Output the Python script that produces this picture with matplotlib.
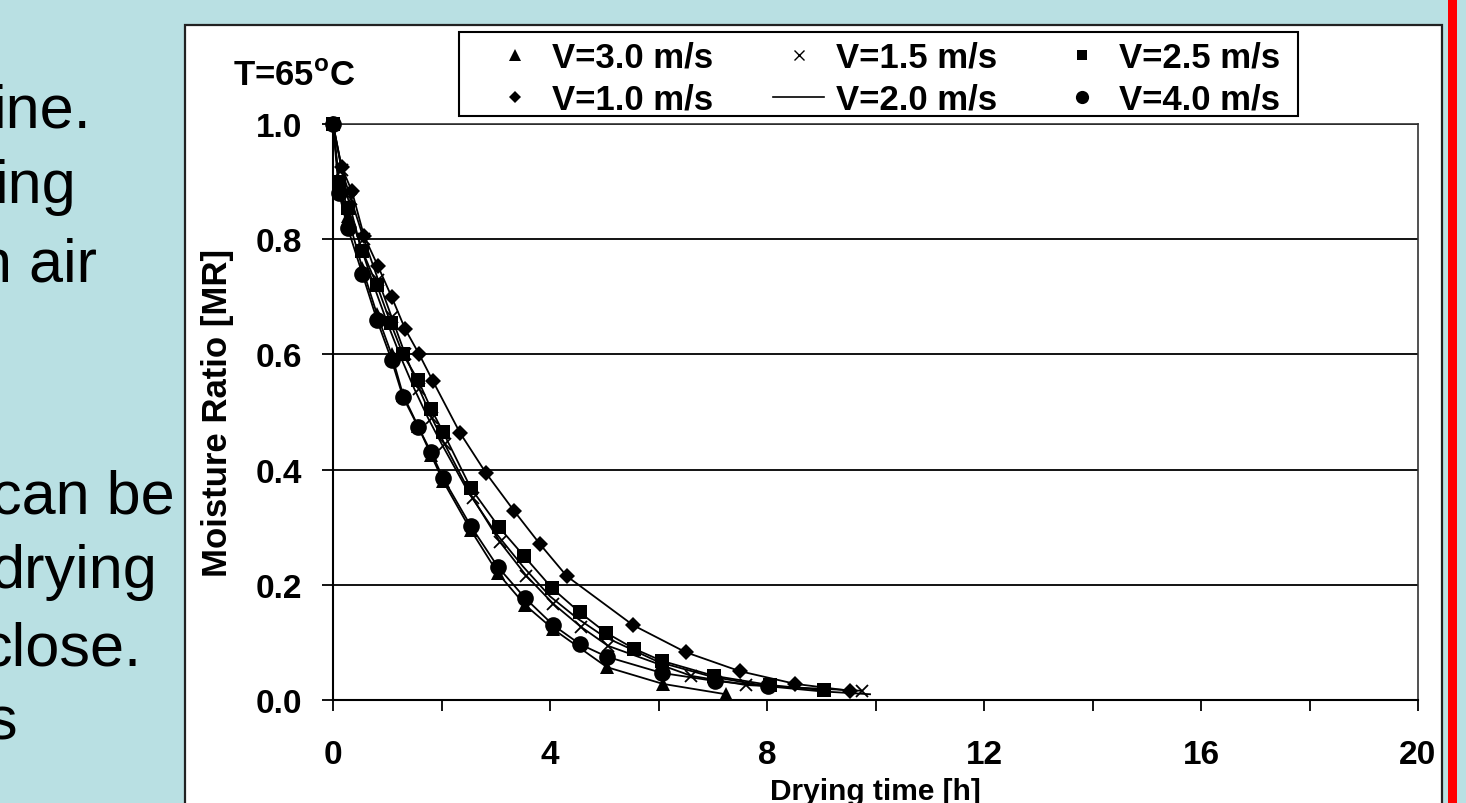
import matplotlib
matplotlib.use("Agg")
import matplotlib.pyplot as plt
from matplotlib.lines import Line2D
from matplotlib.patches import Rectangle
from matplotlib.font_manager import FontProperties

plt.rcParams['font.family'] = ['Liberation Sans', 'DejaVu Sans']
plt.rcParams['mathtext.fontset'] = 'custom'
plt.rcParams['mathtext.rm'] = 'Liberation Sans:bold'
plt.rcParams['mathtext.bf'] = 'Liberation Sans:bold'

# ---------------- data ----------------
t_v10 = [0, 0.16, 0.35, 0.57, 0.83, 1.08, 1.33, 1.59, 1.84, 2.34, 2.82, 3.34, 3.82, 4.31, 5.53, 6.5, 7.5, 8.52, 9.53]
mr_v10 = [1.0, 0.925, 0.883, 0.806, 0.753, 0.70, 0.644, 0.60, 0.554, 0.464, 0.394, 0.328, 0.27, 0.215, 0.13, 0.083, 0.05, 0.028, 0.016]

t_v15 = [0, 0.16, 0.33, 0.57, 0.83, 1.08, 1.33, 1.59, 1.82, 2.06, 2.58, 3.08, 3.56, 4.06, 4.57, 5.07, 6.6, 7.61, 9.75]
mr_v15 = [1.0, 0.92, 0.87, 0.80, 0.73, 0.665, 0.60, 0.54, 0.49, 0.444, 0.35, 0.274, 0.216, 0.167, 0.127, 0.094, 0.042, 0.026, 0.016]

t_v20 = [0, 0.25, 0.5, 0.75, 1.0, 1.25, 1.5, 1.75, 2.0, 2.5, 3.0, 3.5, 4.0, 4.5, 5.0, 6.0, 7.0, 8.0, 9.0, 9.9]
mr_v20 = [1.0, 0.88, 0.79, 0.72, 0.655, 0.595, 0.54, 0.49, 0.445, 0.36, 0.29, 0.232, 0.18, 0.142, 0.11, 0.066, 0.04, 0.024, 0.015, 0.01]

t_v25 = [0, 0.11, 0.27, 0.54, 0.81, 1.06, 1.29, 1.57, 1.81, 2.03, 2.54, 3.06, 3.52, 4.04, 4.55, 5.03, 5.55, 6.06, 7.02, 8.05, 9.05]
mr_v25 = [1.0, 0.90, 0.855, 0.78, 0.72, 0.655, 0.60, 0.555, 0.505, 0.465, 0.368, 0.30, 0.25, 0.194, 0.152, 0.117, 0.089, 0.068, 0.042, 0.026, 0.017]

t_v30 = [0, 0.11, 0.27, 0.54, 0.81, 1.08, 1.29, 1.57, 1.81, 2.03, 2.54, 3.04, 3.54, 4.06, 5.05, 6.08, 7.24]
mr_v30 = [1.0, 0.90, 0.84, 0.75, 0.67, 0.60, 0.53, 0.475, 0.425, 0.38, 0.295, 0.22, 0.165, 0.123, 0.057, 0.028, 0.010]

t_v40 = [0, 0.11, 0.27, 0.54, 0.81, 1.08, 1.29, 1.57, 1.81, 2.03, 2.54, 3.04, 3.54, 4.06, 4.55, 5.05, 6.06, 7.04, 8.02]
mr_v40 = [1.0, 0.88, 0.82, 0.74, 0.66, 0.59, 0.526, 0.474, 0.43, 0.385, 0.302, 0.231, 0.177, 0.13, 0.097, 0.075, 0.047, 0.033, 0.024]

legend_labels = ['V=3.0 m/s', 'V=1.0 m/s', 'V=1.5 m/s', 'V=2.0 m/s', 'V=2.5 m/s', 'V=4.0 m/s']
x_ticks = [0, 4, 8, 12, 16, 20]
x_minor = [2, 6, 10, 14, 18]
y_ticks = [0.0, 0.2, 0.4, 0.6, 0.8, 1.0]
side_text = ['ine.', 'ing', 'n air', 'can be', 'drying', 'close.', 's']

# ---------------- layout helpers ----------------
W, H = 1466, 804
def fx(x):
    return x / W
def fy(y):
    return 1 - y / H

fig = plt.figure(figsize=(W / 100, H / 100), dpi=100)
fig.patch.set_facecolor('#b9e0e3')

# white chart area and red stripe
fig.add_artist(Rectangle((fx(185), fy(840)), fx(1442) - fx(185), fy(26) - fy(840),
                         transform=fig.transFigure, facecolor='white',
                         edgecolor='#222222', lw=1.6, zorder=-2))
fig.add_artist(Rectangle((fx(1448), 0), fx(1457) - fx(1448), 1,
                         transform=fig.transFigure, facecolor='#ff0000',
                         edgecolor='none', zorder=-2))

# left slide text (cut off)
side_pos = [(92, 128), (77, 203), (97, 282), (175, 513), (157, 588), (142, 665), (17, 740)]
for s, (xr, yb) in zip(side_text, side_pos):
    fig.text(fx(xr), fy(yb), s, ha='right', va='baseline', fontsize=44,
             family='Liberation Sans', color='black')

# ---------------- axes ----------------
ax = fig.add_axes([fx(333), fy(701), fx(1418) - fx(333), fy(125) - fy(701)])
ax.set_facecolor('white')
ax.set_xlim(0, 20)
ax.set_ylim(0, 1.0)

ax.set_yticks(y_ticks)
ax.set_yticklabels(['%.1f' % v for v in y_ticks])
ax.set_xticks(x_ticks)
ax.set_xticklabels([str(v) for v in x_ticks])
ax.set_xticks(x_minor, minor=True)
ax.yaxis.grid(True, color='black', lw=1.3)
ax.set_axisbelow(True)

for sp in ['left', 'bottom']:
    ax.spines[sp].set_linewidth(1.5)
    ax.spines[sp].set_color('black')
for sp in ['top', 'right']:
    ax.spines[sp].set_linewidth(1.2)
    ax.spines[sp].set_color('#333333')

tick_fp = FontProperties(family='Liberation Sans', weight='bold', size=24)
ax.tick_params(axis='x', which='both', direction='out', length=8, width=1.3, pad=20)
ax.tick_params(axis='y', which='both', direction='out', length=8, width=1.3, pad=14)
for lab in ax.get_xticklabels() + ax.get_yticklabels():
    lab.set_fontproperties(tick_fp)

ax.set_ylabel('Moisture Ratio [MR]', fontsize=25, fontweight='bold')
ax.yaxis.set_label_coords((234 - 333) / (1418 - 333), 0.5)
ax.set_xlabel('Drying time [h]', fontsize=21.5, fontweight='bold', va='top')
ax.xaxis.set_label_coords(0.5, (701 - 778) / (701 - 125))

# curves (lines through the measured points) and markers
series = [
    (t_v30, mr_v30, '^', 10.5),
    (t_v10, mr_v10, 'D', 8.0),
    (t_v15, mr_v15, 'x', 9),
    (t_v25, mr_v25, 's', 10),
    (t_v40, mr_v40, 'o', 12),
]
for t, m, mk, ms in series:
    ax.plot(t, m, color='black', lw=1.3, zorder=2, clip_on=False)
    kw = dict(mew=1.3) if mk == 'x' else dict(mew=0)
    ax.plot(t, m, ls='none', marker=mk, ms=ms, color='black', zorder=3,
            clip_on=False, **kw)
ax.plot(t_v20, mr_v20, color='black', lw=1.3, zorder=2, clip_on=False)

# temperature label
fig.text(fx(233), fy(77), r'T=65$^{\mathrm{o}}$C', ha='left', va='center',
         fontsize=25, fontweight='bold')

# legend
handles = [
    Line2D([], [], ls='none', marker='^', ms=8, color='black', mew=0),
    Line2D([], [], ls='none', marker='D', ms=6, color='black', mew=0),
    Line2D([], [], ls='none', marker='x', ms=7, color='black', mew=1.0),
    Line2D([], [], ls='-', lw=1.2, color='black'),
    Line2D([], [], ls='none', marker='s', ms=7.5, color='black', mew=0),
    Line2D([], [], ls='none', marker='o', ms=9.5, color='black', mew=0),
]
fig.add_artist(Rectangle((fx(459), fy(117)), fx(1298) - fx(459), fy(33) - fy(117),
                         transform=fig.transFigure, facecolor='white',
                         edgecolor='black', lw=1.5, zorder=3))
leg = fig.legend(handles, legend_labels, ncol=3, loc='upper left',
                 bbox_to_anchor=(fx(490), fy(42)), bbox_transform=fig.transFigure,
                 frameon=False, borderpad=0, borderaxespad=0,
                 handlelength=1.45, handletextpad=0.35, columnspacing=1.72,
                 labelspacing=0.25,
                 prop=dict(family='Liberation Sans', weight='bold', size=25))
leg.set_zorder(4)

fig.savefig('out.png', dpi=100, facecolor=fig.get_facecolor())
